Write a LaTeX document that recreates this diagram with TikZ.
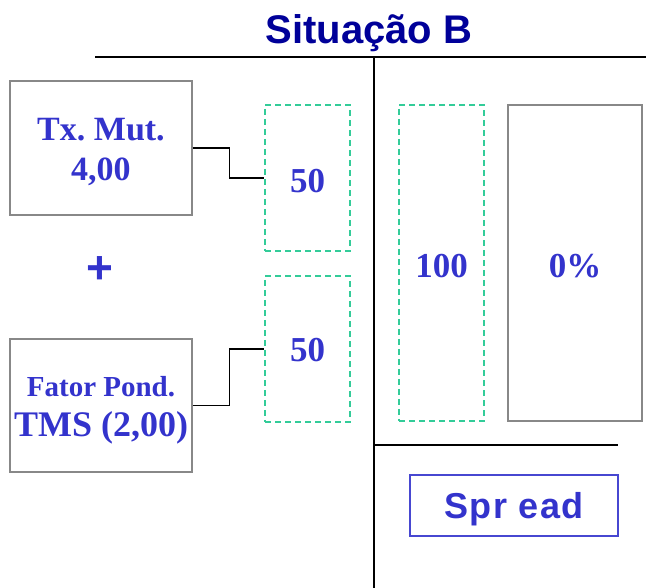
\documentclass[tikz,border=0pt]{standalone}
\usepackage{fontspec}
\setmainfont{Liberation Serif}
\newfontfamily\arialf{Liberation Sans}
\newfontfamily\spreadf[LetterSpace=4]{Liberation Sans}
\definecolor{txtblue}{HTML}{3333CC}
\definecolor{navyt}{HTML}{000099}
\definecolor{teal}{HTML}{33CC99}
\definecolor{boxgray}{HTML}{888888}
\newcommand{\dn}[2]{\raisebox{-#1pt}[\height][\depth]{#2}}
\frenchspacing
\begin{document}
\begin{tikzpicture}[x=1pt,y=-1pt,
  graybox/.style={draw=boxgray,line width=1.5pt,minimum width=#1,inner sep=0pt,text=txtblue,align=center},
  dbox/.style={draw=teal,line width=1.5pt,dash pattern=on 6pt off 4pt,minimum width=85pt,minimum height=#1,inner sep=0pt,text=txtblue,font=\bfseries\fontsize{35}{40}\selectfont},
  rule/.style={draw=black,line width=2pt},
  conn/.style={draw=black,line width=1.2pt}]
\useasboundingbox (0,0) rectangle (646,588);
\node[font=\arialf\bfseries\fontsize{40}{40}\selectfont,text=navyt] (title) at (369,33) {Situação B};
\coordinate (tl) at (95,57);
\coordinate (tr) at (646,57);
\coordinate (vt) at (374,57);
\coordinate (vb) at (374,588);
\coordinate (hl) at (374,445);
\coordinate (hr) at (618,445);
\draw[rule] (tl) -- (tr);
\draw[rule] (vt) -- (vb);
\draw[rule] (hl) -- (hr);
\node[graybox=182pt,minimum height=134pt,font=\bfseries\fontsize{34}{40}\selectfont] (b1) at (101,148) {\dn{4}{Tx. Mut.}\\\dn{4}{4,00}};
\node[graybox=182pt,minimum height=133pt,font=\bfseries\fontsize{36}{40}\selectfont] (b2) at (101,405.5) {\dn{5}{\fontsize{29}{40}\selectfont Fator Pond.}\\\dn{5}{TMS (2,00)}};
\node[text=txtblue,font=\arialf\bfseries\fontsize{46}{46}\selectfont] (plus) at (100,270) {+};
\node[dbox=146pt] (d1) at (307.5,178) {\dn{3}{50}};
\node[dbox=146pt] (d2) at (307.5,349) {\dn{1}{50}};
\node[dbox=316pt] (d3) at (441.5,263) {\dn{3}{100}};
\node[graybox=134pt,minimum height=316pt,font=\bfseries\fontsize{35}{40}\selectfont] (g4) at (575,263) {\dn{3}{0\%}};
\node[draw=txtblue!90,line width=1.5pt,minimum width=208pt,minimum height=61pt,inner sep=0pt,text=txtblue,font=\spreadf\bfseries\fontsize{36}{40}\selectfont] (sp) at (514,505.5) {\dn{4}{Spr ead}};
\draw[conn] (b1.east) -- ++(37,0) |- (d1.west);
\draw[conn] (b2.east) -- ++(37,0) |- (d2.west);
\end{tikzpicture}
\end{document}
